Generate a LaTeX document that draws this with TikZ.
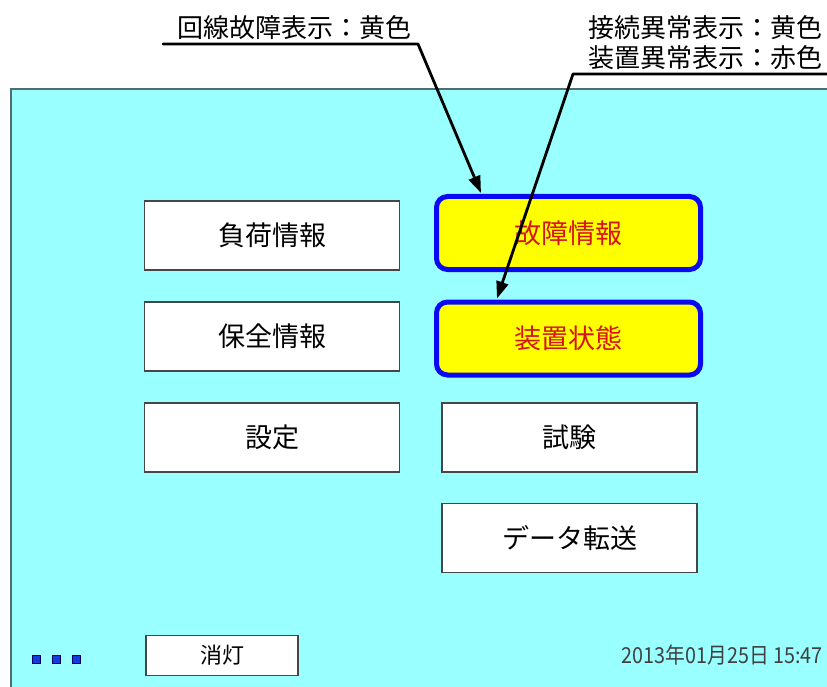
\documentclass[tikz,border=0pt]{standalone}
\usepackage{fontspec}
\setmainfont{Noto Sans CJK JP}
\newfontfamily\datefont[FakeStretch=0.9]{Noto Sans CJK JP}
\usetikzlibrary{arrows.meta,calc}
\definecolor{panelc}{RGB}{153,255,255}
\definecolor{paneledge}{RGB}{80,110,110}
\definecolor{btnedge}{RGB}{70,70,70}
\definecolor{selblue}{RGB}{10,10,240}
\definecolor{selyel}{RGB}{255,255,0}
\definecolor{redtxt}{RGB}{215,20,20}
\definecolor{sqblue}{RGB}{20,60,220}
\begin{document}
\begin{tikzpicture}[x=1pt,y=-1pt,
  btn/.style={draw=btnedge,fill=white,line width=1.4pt,minimum width=255pt,minimum height=69pt,inner sep=0pt,font=\fontsize{27pt}{30pt}\selectfont},
  selbtn/.style={draw=selblue,fill=selyel,line width=5pt,rounded corners=11pt,minimum width=264pt,minimum height=73pt,inner sep=0pt,text=redtxt,font=\fontsize{27pt}{30pt}\selectfont},
  lbl/.style={inner sep=0pt,font=\fontsize{26pt}{30pt}\selectfont},
  leader/.style={line width=2.8pt,line cap=round,line join=round},
  tip/.style={-{Triangle[length=17pt,width=12pt]}},
  sq/.style={draw=blue!40!black,fill=sqblue,line width=0.8pt,minimum size=8pt,inner sep=0pt}
]
\useasboundingbox (0,0) rectangle (827,687);
% panel
\fill[panelc] (11,89) rectangle (828,688);
\draw[paneledge,line width=2pt] (11,689) -- (11,89) -- (828,89);

% left column
\node[btn] (fuka) at (272,235.5) {負荷情報};
\node[btn] (hozen) at (272,336.5) {保全情報};
\node[btn] (settei) at (272,437.5) {設定};
% right column
\node[selbtn] (koshou) at (568.5,233) {故障情報};
\node[selbtn] (souchi) at (568.5,338.5) {装置状態};
\node[btn] (shiken) at (569.5,437.5) {試験};
\node[btn] (data) at (569.5,538) {データ転送};
% bottom
\node[btn,minimum width=152pt,minimum height=40pt,font=\fontsize{22pt}{26pt}\selectfont] (shoutou) at (222,655.5) {消灯};
\node[sq] (s1) at (36,659) {};
\node[sq] (s2) at (56,659) {};
\node[sq] (s3) at (76,659) {};
\node[anchor=east,inner sep=0pt,text=black!75,font=\datefont\fontsize{22pt}{24pt}\selectfont] (date) at (823,655) {2013年01月25日 15:47};

% labels
\node[lbl,anchor=west] (lab1) at (177,28) {回線故障表示：黄色};
\node[lbl,anchor=east] (lab2) at (823,28) {接続異常表示：黄色};
\node[lbl,anchor=east] (lab3) at (823,58) {装置異常表示：赤色};

\coordinate (u1a) at (163,44);
\coordinate (u1b) at (418,44);
\coordinate (u2a) at (828,74);
\coordinate (u2b) at (573,74);
\draw[leader,tip] (u1a) -- (u1b) -- ($(koshou.north west)+(47,-1)$);
\draw[leader,tip] (u2a) -- (u2b) -- ($(souchi.north west)+(63,-1)$);
\end{tikzpicture}
\end{document}
